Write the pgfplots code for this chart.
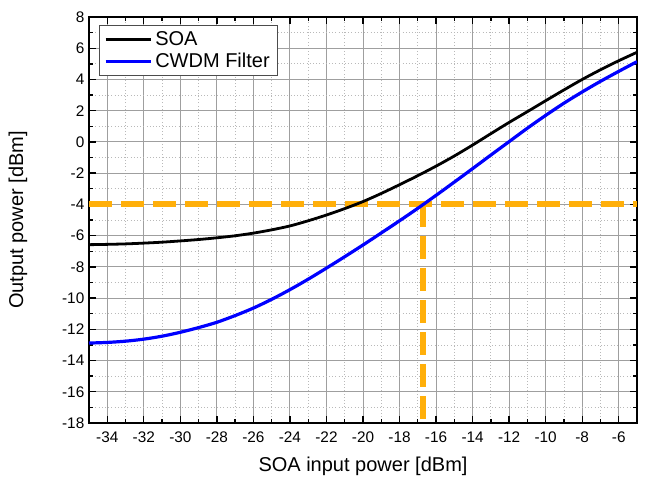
\documentclass[border=0pt]{standalone}
\usepackage{pgfplots}
\pgfplotsset{compat=1.18}
\usepackage{fontspec}
\setmainfont{Liberation Sans}
\definecolor{orng}{RGB}{255,175,10}
\definecolor{bblue}{RGB}{0,0,255}
\begin{document}
\begin{tikzpicture}
\useasboundingbox (-66.75pt,-44.25pt) rectangle (432.75pt,317.25pt);
\begin{axis}[
  at={(0,0)}, anchor=south west,
  scale only axis, width=411pt, height=304.5pt,
  xmin=-35, xmax=-5, ymin=-18, ymax=8,
  xtick={-34,-32,...,-6}, ytick={-18,-16,...,8},
  minor x tick num=1, minor y tick num=1,
  tick align=inside, tick pos=both,
  major tick length=5pt, minor tick length=3.2pt,
  every tick/.style={black, line width=1pt},
  axis line style={line width=1.5pt},
  grid=both,
  major grid style={gray!75, line width=0.7pt},
  minor grid style={gray!55, dotted, line width=0.6pt},
  /pgf/number format/assume math mode=true,
  ticklabel style={font=\fontsize{11.5}{13}\selectfont},
  xticklabel style={yshift=-3pt},
  xlabel={SOA input power [dBm]},
  ylabel={Output power [dBm]},
  label style={font=\fontsize{15}{18}\selectfont},
  x label style={at={(axis description cs:0.5,-0.106)}, anchor=center},
  y label style={at={(axis description cs:-0.1296,0.5)}, anchor=center},
  legend style={at={(0.0182,0.98)}, anchor=north west, draw=gray!60!black, line width=0.7pt,
    font=\fontsize{15}{17}\selectfont, inner xsep=3.5pt, inner ysep=2.5pt, row sep=0pt},
  legend cell align=left,
  legend image code/.code={\draw[#1] (0pt,0pt) -- (34pt,0pt);},
]
\addplot[orng, line width=4.6pt, dash pattern=on 17pt off 7pt, forget plot] coordinates {(-35,-4) (-5,-4)};
\addplot[orng, line width=4.6pt, dash pattern=on 17pt off 7pt, forget plot] coordinates {(-16.7,-4) (-16.7,-18)};
\addplot[black, line width=2.1pt, smooth] coordinates {
(-35,-6.58) (-34,-6.56) (-33,-6.53) (-32,-6.48) (-31,-6.42) (-30,-6.34) (-29,-6.25)
(-28,-6.14) (-27,-6.01) (-26,-5.84) (-25,-5.63) (-24,-5.38) (-23,-5.05) (-22,-4.68)
(-21,-4.27) (-20,-3.82) (-19,-3.30) (-18,-2.74) (-17,-2.16) (-16,-1.55) (-15,-0.90)
(-14,-0.20) (-13,0.53) (-12,1.25) (-11,1.94) (-10,2.64) (-9,3.33) (-8,4.00)
(-7,4.62) (-6,5.20) (-5,5.74)};
\addlegendentry{SOA}
\addplot[bblue, line width=2.4pt, smooth] coordinates {
(-35,-12.88) (-34,-12.84) (-33,-12.76) (-32,-12.63) (-31,-12.44) (-30,-12.19) (-29,-11.89)
(-28,-11.55) (-27,-11.12) (-26,-10.64) (-25,-10.08) (-24,-9.46) (-23,-8.79) (-22,-8.08)
(-21,-7.35) (-20,-6.60) (-19,-5.83) (-18,-5.05) (-17,-4.25) (-16,-3.42) (-15,-2.57)
(-14,-1.71) (-13,-0.84) (-12,0.02) (-11,0.88) (-10,1.70) (-9,2.48) (-8,3.20)
(-7,3.88) (-6,4.52) (-5,5.14)};
\addlegendentry{CWDM Filter}
\node[rotate=90, anchor=center, font=\fontsize{15}{18}\selectfont] at (axis description cs:1.0328,0.5) {Output power [dBm]};
\end{axis}
\end{tikzpicture}
\end{document}
